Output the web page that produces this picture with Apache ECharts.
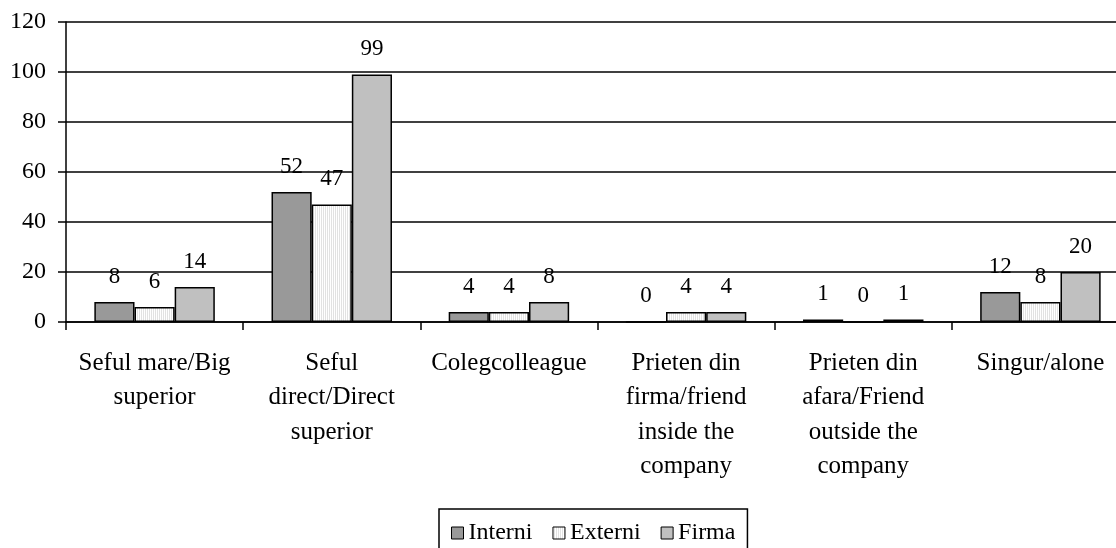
<!DOCTYPE html>
<html>
<head>
<meta charset="utf-8">
<script src="https://cdn.jsdelivr.net/npm/echarts@6/dist/echarts.min.js"></script>
<style>
  html, body { margin: 0; padding: 0; background: #fff; overflow: hidden; }
  /* the chart is a little wider than the window; its right edge is cut off */
  #chart { width: 1129px; height: 548px; }
</style>
</head>
<body>
<div id="chart"></div>
<script>
// Categories (line breaks as wrapped under the axis)
const categories = [
  'Seful mare/Big\nsuperior',
  'Seful\ndirect/Direct\nsuperior',
  'Colegcolleague',
  'Prieten din\nfirma/friend\ninside the\ncompany',
  'Prieten din\nafara/Friend\noutside the\ncompany',
  'Singur/alone'
];
const interni = [8, 52, 4, 0, 1, 12];
const externi = [6, 47, 4, 4, 0, 8];
const firma = [14, 99, 8, 4, 1, 20];
const seriesNames = ['Interni', 'Externi', 'Firma'];

const FONT = '"Liberation Serif", "DejaVu Serif", serif';

// Fine vertical hatching for the Externi bars
function hatch() {
  const c = document.createElement('canvas');
  c.width = 2; c.height = 2;
  const g = c.getContext('2d');
  g.fillStyle = '#ffffff'; g.fillRect(0, 0, 2, 2);
  g.fillStyle = '#e2e2e2'; g.fillRect(1, 0, 1, 2);
  return c;
}

const chart = echarts.init(document.getElementById('chart'), null, { renderer: 'canvas' });

const labelCfg = {
  show: true,
  position: 'top',
  distance: 14,
  color: '#000',
  fontFamily: FONT,
  fontSize: 23
};

function bar(name, data, color) {
  return {
    name: name,
    type: 'bar',
    data: data,
    barGap: '0%',
    barCategoryGap: '32%',
    itemStyle: { color: color, borderColor: '#000', borderWidth: 1.5 },
    label: labelCfg,
    emphasis: { disabled: true }
  };
}

chart.setOption({
  animation: false,
  backgroundColor: '#fff',
  textStyle: { fontFamily: FONT },
  grid: { left: 66, right: 0, top: 22, height: 300, containLabel: false },
  legend: {
    left: 439,
    top: 509,
    data: seriesNames,
    icon: 'rect',
    itemWidth: 12,
    itemHeight: 12,
    itemGap: 20,
    itemStyle: { borderColor: '#000', borderWidth: 1 },
    borderColor: '#000',
    borderWidth: 1.5,
    padding: [12, 12, 14, 12],
    textStyle: { fontFamily: FONT, fontSize: 24, color: '#000' }
  },
  xAxis: {
    type: 'category',
    data: categories,
    axisLine: { lineStyle: { color: '#000', width: 1.5 } },
    axisTick: { show: true, length: 8, lineStyle: { color: '#000', width: 1.5 } },
    axisLabel: {
      interval: 0,
      margin: 24,
      color: '#000',
      fontFamily: FONT,
      fontSize: 25,
      lineHeight: 34.5
    }
  },
  yAxis: {
    type: 'value',
    min: 0,
    max: 120,
    interval: 20,
    axisLine: { show: true, lineStyle: { color: '#000', width: 1.5 } },
    axisTick: { show: true, length: 8, lineStyle: { color: '#000', width: 1.5 } },
    splitLine: { lineStyle: { color: '#000', width: 1.5 } },
    axisLabel: { margin: 20, color: '#000', fontFamily: FONT, fontSize: 24 }
  },
  series: [
    bar(seriesNames[0], interni, '#999999'),
    bar(seriesNames[1], externi, { image: hatch(), repeat: 'repeat' }),
    bar(seriesNames[2], firma, '#c0c0c0')
  ]
});
</script>
</body>
</html>
